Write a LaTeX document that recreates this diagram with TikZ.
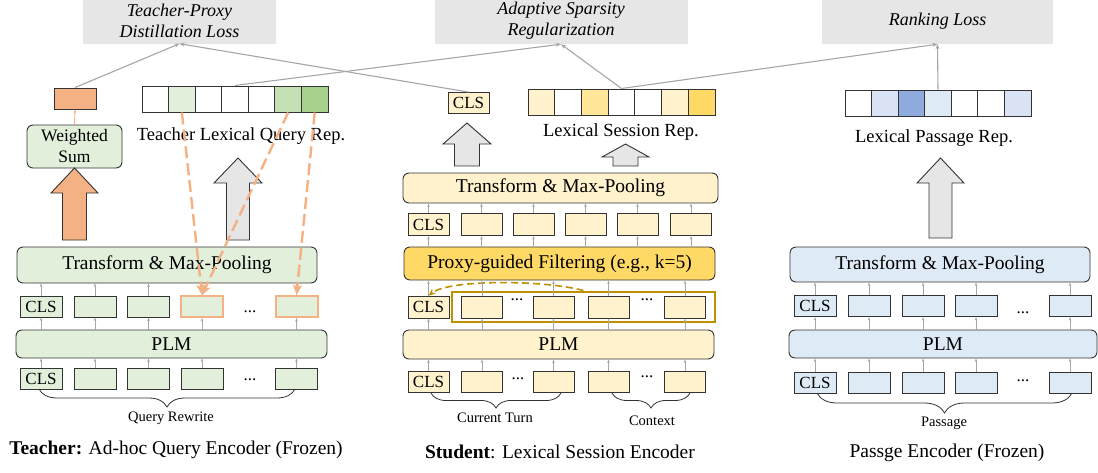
\documentclass[tikz,border=0pt]{standalone}
\usepackage{fontspec}
\setmainfont{Liberation Serif}
\usetikzlibrary{arrows.meta,decorations.pathreplacing,fit,calc}
\definecolor{gfill}{HTML}{E2EFDA}
\definecolor{gmid}{HTML}{C5E0B4}
\definecolor{gdark}{HTML}{A9D18E}
\definecolor{ofill}{HTML}{F4B183}
\definecolor{yfill}{HTML}{FFF2CC}
\definecolor{ymid}{HTML}{FFE699}
\definecolor{ydark}{HTML}{FFD966}
\definecolor{goldc}{HTML}{BF9000}
\definecolor{bfill}{HTML}{DEEBF7}
\definecolor{bmid}{HTML}{DAE3F3}
\definecolor{bdark}{HTML}{8FAADC}
\definecolor{lossgray}{HTML}{E7E6E6}
\definecolor{arrgray}{HTML}{E6E6E6}
\definecolor{lingray}{HTML}{A6A6A6}
\definecolor{bordc}{HTML}{333333}
\newcommand\fLay{\fontsize{19.5}{22}\selectfont}
\newcommand\fLab{\fontsize{18.5}{21}\selectfont}
\newcommand\fCls{\fontsize{17}{19}\selectfont}
\newcommand\fSm{\fontsize{14.5}{16}\selectfont}
\newcommand\fLoss{\fontsize{18}{21}\selectfont}
\newcommand\blockarr[7]{%
  \draw[draw=bordc, line width=0.9pt, fill=#7] (#1-#5,#2) -- (#1-#5,#3) -- (#1-#6,#3) -- (#1,#4) -- (#1+#6,#3) -- (#1+#5,#3) -- (#1+#5,#2) -- cycle;}
\begin{document}
\begin{tikzpicture}[x=1pt,y=-1pt,
  tok/.style={draw=bordc, line width=0.9pt, minimum width=42pt, minimum height=21pt, inner sep=0pt, font=\fCls},
  layer/.style={draw=bordc, line width=0.9pt, rounded corners=6pt, inner sep=0pt, font=\fLay},
  cell/.style={draw=bordc, line width=1pt, inner sep=0pt, minimum height=26pt},
  loss/.style={fill=lossgray, inner sep=0pt, font=\fLoss\itshape, align=center},
  lab/.style={font=\fLab, inner sep=0pt},
  sarr/.style={draw=lingray, line width=0.8pt, -{Stealth[length=3.5pt,width=2.5pt]}},
  topline/.style={draw=lingray, line width=1.1pt, -{Stealth[length=5pt,width=4pt]}},
  odash/.style={draw=ofill, line width=2.4pt, dash pattern=on 12pt off 5pt, -{Stealth[length=10pt,width=9pt,inset=2pt]}},
  dots/.style={font=\fCls, inner sep=0pt},
  brc/.style={draw=bordc, line width=0.8pt, decorate, decoration={brace, mirror, amplitude=#1}},
]
\useasboundingbox (0,0) rectangle (1098,472);

% ---------------- loss boxes
\node[loss, minimum width=193pt, minimum height=46pt] (dLoss) at (179.5,20.5) {Teacher-Proxy\\Distillation Loss};
\node[loss, minimum width=253pt, minimum height=46pt] (aLoss) at (561,21) {Adaptive Sparsity\\Regularization};
\node[loss, minimum width=231pt, minimum height=46pt] (rLoss) at (937.5,21) {Ranking Loss};

% ---------------- TEACHER
\node[draw=bordc, line width=0.9pt, fill=ofill, minimum width=42pt, minimum height=21pt, inner sep=0pt] (obox) at (75,98.5) {};
\node[draw=bordc, line width=0.9pt, fill=gfill, rounded corners=6pt, minimum width=95pt, minimum height=43pt, inner sep=0pt, align=center, font=\fontsize{17.5}{21}\selectfont] (wsum) at (74.5,146.5) {Weighted\\Sum};
\foreach \i/\c in {1/white,2/gfill,3/white,4/white,5/white,6/gmid,7/gdark}
  \node[cell, fill=\c, minimum width=26.57pt] (tr\i) at ({142+(\i-0.5)*26.571},99) {};
\node[lab] (trlab) at (241,136) {Teacher Lexical Query Rep.};

\blockarr{74.5}{240}{193}{168}{12}{23.5}{ofill}
\blockarr{238}{240}{183}{158}{11.5}{24}{arrgray}

\node[layer, fill=gfill, minimum width=300pt, minimum height=36pt] (tT) at (167,265) {Transform \& Max-Pooling};
\node[layer, fill=gfill, minimum width=311pt, minimum height=28pt] (tP) at (171.5,344) {PLM};

\foreach \n/\x in {a/41,b/95,c/148.5,d/202,e/296.5} {
  \node[tok, fill=gfill] (t0\n) at (\x,378.5) {};
}
\node[tok, fill=gfill] (t1a) at (41,306.5) {CLS};
\node[tok, fill=gfill] (t1b) at (95,306.5) {};
\node[tok, fill=gfill] (t1c) at (148.5,306.5) {};
\node[tok, fill=gfill, draw=ofill, line width=2pt] (t1d) at (202,306.5) {};
\node[tok, fill=gfill, draw=ofill, line width=2pt] (t1e) at (296.5,306.5) {};
\node[font=\fCls, inner sep=0pt] at (t0a) {CLS};
\node[dots] (td1) at (250,312) {...};
\node[dots] (td0) at (250,380) {...};

\foreach \n in {a,b,c,d,e} {
  \draw[sarr] (t0\n.north) -- (t0\n.north |- tP.south);
  \draw[sarr] (tP.north -| t1\n.center) -- (t1\n.south);
  \draw[sarr] (t1\n.north) -- (t1\n.north |- tT.south);
}
\draw[brc=18pt] (39,389) -- (295,389);
\node[font=\fSm, inner sep=0pt] (tqr) at (171,418) {Query Rewrite};
\node[font=\fLay, inner sep=0pt] (tcap) at (176,450) {\textbf{Teacher:} Ad-hoc Query Encoder (Frozen)};

\draw[odash] (tr2.south) -- (t1d.north);
\draw[odash] (tr6.south) -- (t1d.north);
\draw[odash] (tr7.south) -- (t1e.north);
\draw[draw=ofill, line width=0.9pt, -{Stealth[length=3.5pt,width=3pt]}] (wsum.north) -- (obox.south);

% ---------------- STUDENT
\node[tok, fill=yfill, minimum width=41pt] (scls) at (468.5,103) {CLS};
\foreach \i/\c in {1/yfill,2/white,3/ymid,4/white,5/white,6/yfill,7/ydark}
  \node[cell, fill=\c, minimum width=26.71pt] (sr\i) at ({528+(\i-0.5)*26.714},102) {};
\node[lab] (srlab) at (621,132) {Lexical Session Rep.};

\blockarr{467}{166}{144}{123}{12.5}{24}{arrgray}
\blockarr{625.5}{166}{157}{144}{12.5}{23.5}{arrgray}

\node[layer, fill=yfill, minimum width=315pt, minimum height=30pt] (sT) at (560.5,188) {Transform \& Max-Pooling};
\node[layer, fill=ydark, minimum width=311pt, minimum height=33pt] (sF) at (559.5,263.5) {Proxy-guided Filtering (e.g., k=5)};
\node[layer, fill=yfill, minimum width=311pt, minimum height=29pt] (sP) at (558.5,344.5) {PLM};

\node[tok, fill=yfill, minimum width=41pt, minimum height=22pt] (s1a) at (428.5,224.5) {CLS};
\foreach \n/\x in {b/481.5,c/533.5,d/585.5,e/637.5,f/691} {
  \node[tok, fill=yfill, minimum width=41pt, minimum height=22pt] (s1\n) at (\x,224.5) {};
}
\node[tok, fill=yfill, minimum width=41pt, minimum height=22pt] (s2a) at (428.5,307) {CLS};
\node[tok, fill=yfill, minimum width=41pt, minimum height=21pt] (s0a) at (428.5,382) {CLS};
\foreach \n/\x in {b/482,c/553.5,d/608.5,e/685} {
  \node[tok, fill=yfill, minimum width=41pt, minimum height=22pt] (s2\n) at (\x,307) {};
  \node[tok, fill=yfill, minimum width=41pt, minimum height=21pt] (s0\n) at (\x,382) {};
}
\node[dots] at (517,300) {...};
\node[dots] at (647,300) {...};
\node[dots] at (518,379) {...};
\node[dots] at (647,377) {...};

\node[draw=goldc, line width=2pt, inner xsep=9pt, inner ysep=4pt, fit=(s2b)(s2e)] (gold) {};
\draw[draw=goldc, line width=1.6pt, dash pattern=on 7pt off 4pt, -{Stealth[length=7pt,width=6pt]}]
  (gold.north) .. controls (545,280) and (450,279) .. (s2a.north);

\foreach \n in {a,b,c,d,e} {
  \draw[sarr] (s0\n.north) -- (s0\n.north |- sP.south);
  \draw[sarr] (sP.north -| s2\n.center) -- (s2\n.south);
  \draw[sarr] (s2\n.north) -- (s2\n.north |- sF.south);
}
\foreach \n in {a,b,c,d,e,f} {
  \draw[sarr] (sF.north -| s1\n.center) -- (s1\n.south);
  \draw[sarr] (s1\n.north) -- (s1\n.north |- sT.south);
}
\draw[brc=15pt] (431,393) -- (561,393);
\draw[brc=15pt] (612,393) -- (690,393);
\node[font=\fSm, inner sep=0pt] (sct) at (495,418) {Current Turn};
\node[font=\fSm, inner sep=0pt] (sctx) at (652,421) {Context};
\node[font=\fLay, inner sep=0pt] (scap) at (560,452) {\textbf{Student}: Lexical Session Encoder};

% ---------------- PASSAGE
\foreach \i/\c in {1/white,2/bmid,3/bdark,4/bfill,5/white,6/white,7/bmid}
  \node[cell, fill=\c, minimum width=26.57pt] (pr\i) at ({845+(\i-0.5)*26.571},103) {};
\node[lab] (prlab) at (934,138) {Lexical Passage Rep.};
\blockarr{940.5}{238}{183}{158}{11.5}{23.5}{arrgray}

\node[layer, fill=bfill, minimum width=300pt, minimum height=35pt] (pT) at (940,264.5) {Transform \& Max-Pooling};
\node[layer, fill=bfill, minimum width=308pt, minimum height=28pt] (pP) at (943,344) {PLM};
\node[tok, fill=bfill] (p1a) at (815,306) {CLS};
\node[tok, fill=bfill] (p0a) at (815,382.5) {CLS};
\foreach \n/\x in {b/869,c/923,d/976,e/1070} {
  \node[tok, fill=bfill] (p1\n) at (\x,306) {};
  \node[tok, fill=bfill] (p0\n) at (\x,382.5) {};
}
\node[dots] at (1023,313) {...};
\node[dots] at (1023,381) {...};
\foreach \n in {a,b,c,d,e} {
  \draw[sarr] (p0\n.north) -- (p0\n.north |- pP.south);
  \draw[sarr] (pP.north -| p1\n.center) -- (p1\n.south);
  \draw[sarr] (p1\n.north) -- (p1\n.north |- pT.south);
}
\draw[brc=20pt] (817,393) -- (1072,393);
\node[font=\fSm, inner sep=0pt] (ppl) at (944,423) {Passage};
\node[font=\fLay, inner sep=0pt] (pcap) at (947,453) {Passge Encoder (Frozen)};

% ---------------- top connectors
\draw[topline] (obox.north) -- (dLoss.south);
\draw[topline] (scls.north) -- (dLoss.south);
\draw[topline] (tr4.north) -- (aLoss.south);
\draw[topline] (sr4.north) -- (aLoss.south);
\draw[topline] (sr4.north) -- (rLoss.south);
\draw[topline] (pr4.north) -- (rLoss.south);
\end{tikzpicture}
\end{document}
